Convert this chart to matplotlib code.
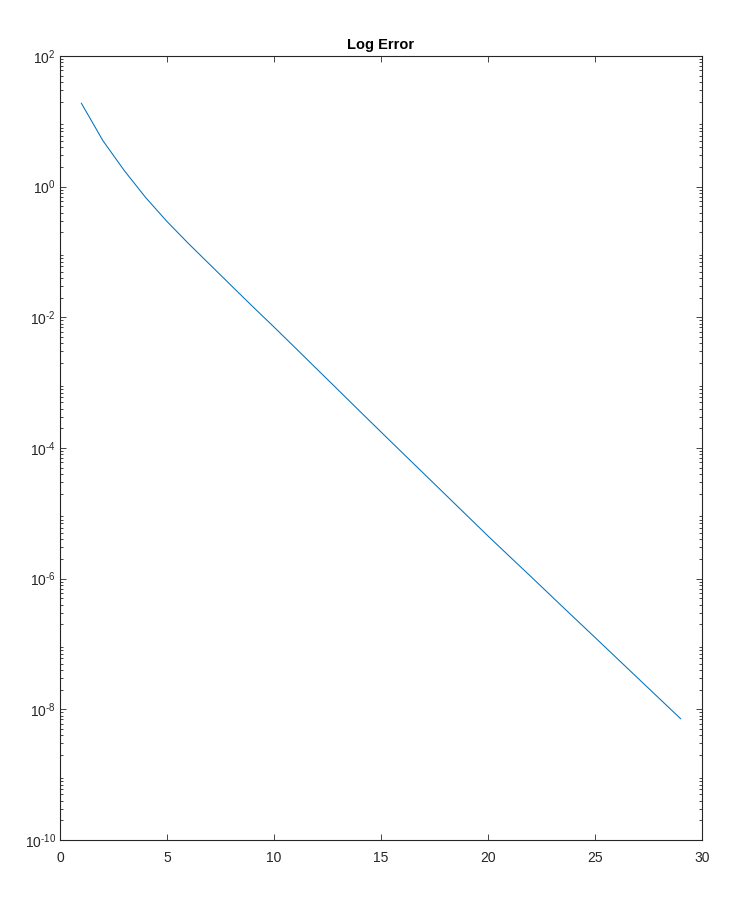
import matplotlib
matplotlib.use('Agg')
import matplotlib.pyplot as plt
import matplotlib.ticker as mticker
import numpy as np

# Error per iteration
iterations = list(range(1, 30))
errors = [18.9, 5.09, 1.77, 0.683, 0.293, 0.135, 0.0644, 0.0307, 0.01466,
          7.11e-3, 3.40e-3, 1.62e-3, 7.73e-4, 3.68e-4, 1.76e-4,
          8.44e-5, 4.06e-5, 1.95e-5, 9.36e-6, 4.50e-6,
          2.20e-6, 1.08e-6, 5.26e-7, 2.57e-7, 1.26e-7,
          6.15e-8, 3.01e-8, 1.47e-8, 7.19e-9]
ytick_exps = [-10, -8, -6, -4, -2, 0, 2]

plt.rcParams['font.family'] = ['Liberation Sans', 'DejaVu Sans']
plt.rcParams['mathtext.fontset'] = 'custom'
plt.rcParams['mathtext.rm'] = 'Liberation Sans'
plt.rcParams['mathtext.it'] = 'Liberation Sans'

axcol = '#262626'


def pow_label(v, pos):
    # MATLAB style: plain hyphen in the exponent
    e = int(round(np.log10(v)))
    return r'$\mathregular{10^{\text{%d}}}$' % e


fig = plt.figure(figsize=(7.49, 9.14), dpi=100)
ax = fig.add_axes([60/749, 74/914, 642/749, 784/914])

ax.semilogy(iterations, errors, color='#0072BD', lw=0.75)

ax.set_xlim(0, 30)
ax.set_ylim(1e-10, 1e2)
ax.set_xticks(np.arange(0, 31, 5))
ax.set_yticks([10.0 ** e for e in ytick_exps])
ax.yaxis.set_major_formatter(mticker.FuncFormatter(pow_label))
ax.yaxis.set_minor_locator(mticker.LogLocator(base=10, subs=np.arange(2, 10), numticks=100))
ax.yaxis.set_minor_formatter(mticker.NullFormatter())

ax.tick_params(which='both', direction='in', top=True, right=True, colors=axcol,
               labelsize=10, width=0.6)
ax.tick_params(which='major', length=4.5)
ax.tick_params(which='minor', length=2.3)
ax.tick_params(axis='x', pad=8)
ax.tick_params(axis='y', pad=3)
for s in ax.spines.values():
    s.set_color(axcol)
    s.set_linewidth(0.8)

ax.set_title('Log Error', fontsize=10.5, fontweight='bold', color='black', pad=5)

fig.savefig('out.png', dpi=100)
